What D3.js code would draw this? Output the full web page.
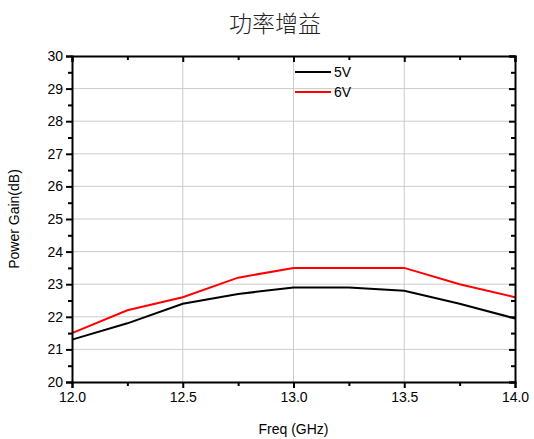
<!DOCTYPE html>
<html><head><meta charset="utf-8">
<script src="https://cdn.jsdelivr.net/npm/d3@7"></script>
<style>body{margin:0;background:#fff}svg{display:block}text{font-family:"Liberation Sans",Arial,sans-serif}</style>
</head><body>
<script>
const freq = [12.0, 12.25, 12.5, 12.75, 13.0, 13.25, 13.5, 13.75, 14.0];
const gain5V = [21.3, 21.8, 22.4, 22.7, 22.9, 22.9, 22.8, 22.4, 21.95];
const gain6V = [21.5, 22.2, 22.6, 23.2, 23.5, 23.5, 23.5, 23.0, 22.6];
const seriesNames = ["5V", "6V"];
const seriesColors = ["#000000", "#ff0000"];
const xTicks = [12.0, 12.5, 13.0, 13.5, 14.0];
const yTicks = [20, 21, 22, 23, 24, 25, 26, 27, 28, 29, 30];

const W = 534, H = 439;
const m = {left: 72, right: 19, top: 56, bottom: 57};
const svg = d3.select("body").append("svg").attr("width", W).attr("height", H);
const x = d3.scaleLinear().domain([12, 14]).range([m.left, W - m.right]);
const y = d3.scaleLinear().domain([20, 30]).range([H - m.bottom, m.top]);
const x0 = x.range()[0], x1 = x.range()[1], y0 = y.range()[0], y1 = y.range()[1];

// grid
const g = svg.append("g").attr("stroke", "#cccccc").attr("stroke-width", 1);
xTicks.slice(1, -1).forEach(t => g.append("line").attr("x1", x(t)).attr("x2", x(t)).attr("y1", y0).attr("y2", y1));
yTicks.slice(1, -1).forEach(t => g.append("line").attr("x1", x0).attr("x2", x1).attr("y1", y(t)).attr("y2", y(t)));

// series
const line = d3.line().x(d => x(d[0])).y(d => y(d[1]));
[gain5V, gain6V].forEach((s, i) => {
  svg.append("path").datum(freq.map((f, j) => [f, s[j]]))
    .attr("d", line).attr("fill", "none").attr("stroke", seriesColors[i]).attr("stroke-width", 2);
});

// axes
const minorX = d3.range(12.25, 14, 0.5);
const minorY = d3.range(20.5, 30, 1);
const fmt = d3.format(".1f");
const axBottom = svg.append("g").attr("transform", `translate(0,${y0})`)
  .call(d3.axisBottom(x).tickValues(xTicks).tickFormat(fmt).tickSize(6).tickPadding(4));
axBottom.append("g").call(d3.axisBottom(x).tickValues(minorX).tickFormat("").tickSize(4));
const axLeft = svg.append("g").attr("transform", `translate(${x0},0)`)
  .call(d3.axisLeft(y).tickValues(yTicks).tickFormat(d3.format("d")).tickSize(6).tickPadding(3));
axLeft.append("g").call(d3.axisLeft(y).tickValues(minorY).tickFormat("").tickSize(4));
const axTop = svg.append("g").attr("transform", `translate(0,${y1})`)
  .call(d3.axisBottom(x).tickValues(xTicks).tickFormat("").tickSize(6));
axTop.append("g").call(d3.axisBottom(x).tickValues(minorX).tickFormat("").tickSize(4));
const axRight = svg.append("g").attr("transform", `translate(${x1},0)`)
  .call(d3.axisLeft(y).tickValues(yTicks).tickFormat("").tickSize(6));
axRight.append("g").call(d3.axisLeft(y).tickValues(minorY).tickFormat("").tickSize(4));
[axBottom, axLeft, axTop, axRight].forEach(a => {
  a.selectAll("g g path.domain").remove();
  a.selectAll("path.domain").attr("stroke", "#000").attr("stroke-width", 2);
  a.selectAll(".tick line").attr("stroke", "#000").attr("stroke-width", 2);
  a.selectAll(".tick text").attr("font-size", 14).attr("fill", "#000").attr("font-family", '"Liberation Sans",Arial,sans-serif');
});

// labels
svg.append("text").attr("x", 275).attr("y", 32).attr("text-anchor", "middle")
  .attr("font-size", 23).attr("font-weight", 300).attr("fill", "#222")
  .style("font-family", '"Noto Sans CJK SC",sans-serif').text("功率增益");
svg.append("text").attr("x", (x0 + x1) / 2).attr("y", 434).attr("text-anchor", "middle")
  .attr("font-size", 14).text("Freq (GHz)");
svg.append("text").attr("transform", `translate(19,${(y0 + y1) / 2}) rotate(-90)`)
  .attr("text-anchor", "middle").attr("font-size", 14).text("Power Gain(dB)");

// legend
seriesNames.forEach((n, i) => {
  const ly = 72 + i * 20;
  svg.append("line").attr("x1", 295).attr("x2", 331).attr("y1", ly).attr("y2", ly)
    .attr("stroke", seriesColors[i]).attr("stroke-width", 2);
  svg.append("text").attr("x", 334).attr("y", ly + 5).attr("font-size", 14).text(n);
});
</script>
</body></html>
